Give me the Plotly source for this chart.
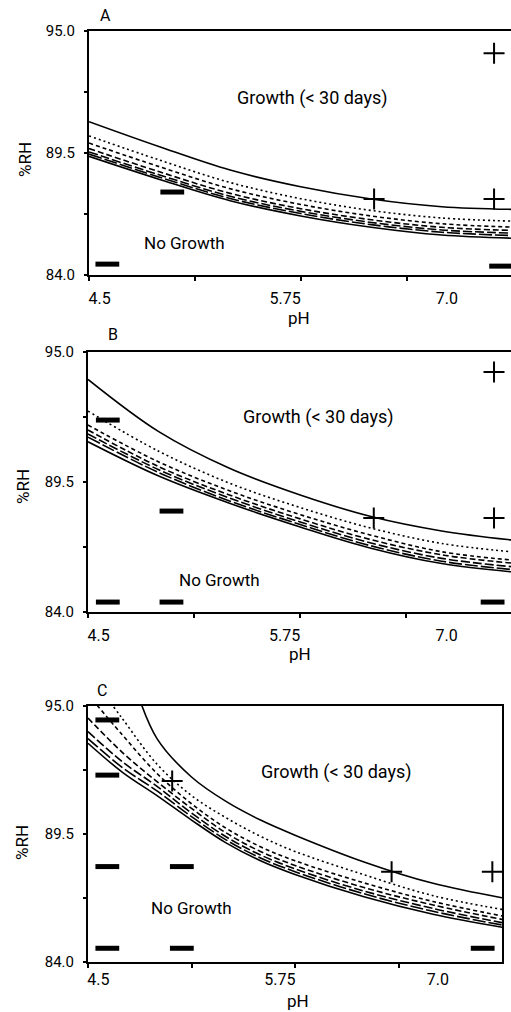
import plotly.graph_objects as go

# ---------------- data ----------------
PH_AB = [4.5, 5.0, 5.5, 6.0, 6.5, 7.0, 7.49]
A_TOP = [90.91, 89.78, 88.73, 87.98, 87.43, 87.08, 86.96]
A_DOT = [90.27, 89.18, 88.17, 87.44, 86.91, 86.57, 86.43]
A_DS = [89.95, 88.88, 87.89, 87.18, 86.66, 86.31, 86.16]
A_DM = [89.70, 88.65, 87.68, 86.99, 86.49, 86.15, 86.01]
A_DL = [89.55, 88.51, 87.55, 86.87, 86.37, 86.03, 85.89]
A_DXL = [89.45, 88.41, 87.45, 86.77, 86.27, 85.93, 85.78]
A_BOT = [89.35, 88.31, 87.35, 86.66, 86.15, 85.80, 85.66]

B_TOP = [93.84, 91.63, 90.08, 88.95, 88.04, 87.43, 87.05]
B_DOT = [92.50, 90.80, 89.45, 88.42, 87.55, 86.90, 86.55]
B_DS = [91.91, 90.35, 89.13, 88.12, 87.25, 86.55, 86.20]
B_DM = [91.70, 90.15, 88.95, 87.94, 87.06, 86.42, 86.07]
B_DL = [91.53, 90.02, 88.82, 87.81, 86.92, 86.27, 85.92]
B_DXL = [91.40, 89.90, 88.70, 87.70, 86.80, 86.15, 85.80]
B_BOT = [91.20, 89.75, 88.60, 87.60, 86.70, 86.05, 85.70]

PH_C_TOP = [4.85, 5.0, 5.25, 5.5, 5.75, 6.0, 6.5, 7.0, 7.5]
C_TOP = [95.7, 93.6, 91.95, 90.9, 90.1, 89.45, 88.3, 87.38, 86.76]
PH_C_DOT = [4.6, 4.75, 5.0, 5.25, 5.5, 5.75, 6.0, 6.5, 7.0, 7.5]
C_DOT = [95.65, 94.45, 92.5, 91.15, 90.2, 89.4, 88.75, 87.75, 86.85, 86.26]
PH_C = [4.5, 4.75, 5.0, 5.25, 5.5, 5.75, 6.0, 6.5, 7.0, 7.5]
C_DS = [95.5, 93.75, 92.1, 90.8, 89.75, 88.95, 88.35, 87.4, 86.6, 85.98]
C_DM = [94.48, 93.0, 91.75, 90.6, 89.55, 88.75, 88.15, 87.2, 86.45, 85.83]
C_DL = [93.9, 92.6, 91.55, 90.4, 89.38, 88.6, 88.0, 87.05, 86.3, 85.69]
C_DXL = [93.6, 92.35, 91.35, 90.25, 89.25, 88.47, 87.88, 86.93, 86.18, 85.59]
C_BOT = [93.4, 92.15, 91.15, 90.1, 89.12, 88.35, 87.76, 86.8, 86.05, 85.49]

# growth (+) and no growth (-) observations
A_PLUS_PH = [7.37, 6.52, 7.37]
A_PLUS_RH = [94.0, 87.43, 87.43]
A_MINUS_PH = [4.63, 5.09, 7.42]
A_MINUS_RH = [84.49, 87.74, 84.4]

B_PLUS_PH = [7.37, 6.52, 7.37]
B_PLUS_RH = [94.15, 87.98, 87.98]
B_MINUS_PH = [4.64, 5.09, 4.64, 5.09, 7.36]
B_MINUS_RH = [92.12, 88.27, 84.42, 84.42, 84.42]

C_PLUS_PH = [5.11, 6.70, 7.43]
C_PLUS_RH = [91.78, 87.88, 87.88]
C_MINUS_PH = [4.64, 4.64, 4.64, 5.18, 4.64, 5.18, 7.36]
C_MINUS_RH = [94.4, 92.03, 88.1, 88.1, 84.59, 84.59, 84.59]

Y_TICKS = [84.0, 89.5, 95.0]
Y_TICK_TEXT = ["84.0", "89.5", "95.0"]
Y_MINOR = [86.75, 92.25]
X_TICK_POS = [4.575, 5.89, 7.035]
X_TICK_TEXT = ["4.5", "5.75", "7.0"]
X_MINOR = [4.5, 5.25, 6.0, 6.75]

PANEL_LETTERS = ["A", "B", "C"]
X_TITLE = "pH"
Y_TITLE = "%RH"
GROWTH_TEXT = "Growth (&lt; 30 days)"
NOGROWTH_TEXT = "No Growth"
GROWTH_POS = [(6.08, 91.98), (6.13, 92.25), (6.30, 92.16)]
NOGROWTH_POS = [(5.18, 85.44), (5.43, 85.36), (5.25, 86.32)]

# ---------------- figure ----------------
W, H = 511, 1012
FONT = "Roboto, Liberation Sans, sans-serif"
DASHES = ["solid", "2px,3px", "4px,3px", "6px,3px", "9px,3px", "13px,3px", "solid"]


def fx(p):
    return p / W


def fy(p):
    return 1 - p / H


panels = [
    dict(curves=[(PH_AB, A_TOP), (PH_AB, A_DOT), (PH_AB, A_DS), (PH_AB, A_DM),
                 (PH_AB, A_DL), (PH_AB, A_DXL), (PH_AB, A_BOT)],
         plus=(A_PLUS_PH, A_PLUS_RH), minus=(A_MINUS_PH, A_MINUS_RH),
         xdom=[fx(89), 1.0], ydom=[fy(275), fy(31)], xr=[4.5, 7.49],
         letter=(105, 15), ytitle=(25, 160), xtitle=(299, 318), right=False,
         xstand=8),
    dict(curves=[(PH_AB, B_TOP), (PH_AB, B_DOT), (PH_AB, B_DS), (PH_AB, B_DM),
                 (PH_AB, B_DL), (PH_AB, B_DXL), (PH_AB, B_BOT)],
         plus=(B_PLUS_PH, B_PLUS_RH), minus=(B_MINUS_PH, B_MINUS_RH),
         xdom=[fx(88), 1.0], ydom=[fy(612), fy(352)], xr=[4.5, 7.49],
         letter=(113, 334), ytitle=(23, 487), xtitle=(300, 654), right=False,
         xstand=8),
    dict(curves=[(PH_C_TOP, C_TOP), (PH_C_DOT, C_DOT), (PH_C, C_DS), (PH_C, C_DM),
                 (PH_C, C_DL), (PH_C, C_DXL), (PH_C, C_BOT)],
         plus=(C_PLUS_PH, C_PLUS_RH), minus=(C_MINUS_PH, C_MINUS_RH),
         xdom=[fx(88), fx(502)], ydom=[fy(962), fy(706)], xr=[4.5, 7.5],
         letter=(102, 690), ytitle=(22, 843), xtitle=(298, 1001), right=True,
         xstand=2),
]

fig = go.Figure()
annotations = []
layout = {}

for i, p in enumerate(panels):
    n = "" if i == 0 else str(i + 1)
    xa, ya = "x" + n, "y" + n
    for (xs, ys), dash in zip(p["curves"], DASHES):
        fig.add_trace(go.Scatter(x=xs, y=ys, mode="lines", xaxis=xa, yaxis=ya,
                                 line=dict(color="black", width=1.6, dash=dash,
                                           shape="spline", smoothing=1.0),
                                 showlegend=False, hoverinfo="skip"))
    fig.add_trace(go.Scatter(x=p["plus"][0], y=p["plus"][1], mode="markers",
                             xaxis=xa, yaxis=ya, showlegend=False,
                             marker=dict(symbol="cross-thin", size=15,
                                         line=dict(color="black", width=2))))
    fig.add_trace(go.Scatter(x=p["minus"][0], y=p["minus"][1], mode="markers",
                             xaxis=xa, yaxis=ya, showlegend=False,
                             marker=dict(symbol="line-ew", size=17,
                                         line=dict(color="black", width=5))))
    layout["xaxis" + n] = dict(
        domain=p["xdom"], range=p["xr"], anchor=ya, automargin=False,
        showline=True, linecolor="black", linewidth=2, mirror=True,
        showgrid=False, zeroline=False,
        tickmode="array", tickvals=X_TICK_POS, ticktext=X_TICK_TEXT, ticks="",
        ticklabelstandoff=p["xstand"],
        minor=dict(tickvals=X_MINOR, ticks="outside", ticklen=4,
                   tickcolor="black", tickwidth=1.5, showgrid=False),
        tickfont=dict(family=FONT, size=16, color="black"),
    )
    layout["yaxis" + n] = dict(
        domain=p["ydom"], range=[84, 95], anchor=xa, automargin=False,
        showline=True, linecolor="black", linewidth=2, mirror=p["right"],
        showgrid=False, zeroline=False,
        tickmode="array", tickvals=Y_TICKS, ticktext=Y_TICK_TEXT,
        ticks="outside", ticklen=3, tickwidth=1.5, tickcolor="black",
        ticklabelstandoff=6,
        minor=dict(tickvals=Y_MINOR, ticks="outside", ticklen=3,
                   tickcolor="black", tickwidth=1.5, showgrid=False),
        tickfont=dict(family=FONT, size=15, color="black"),
    )
    gx, gy = GROWTH_POS[i]
    annotations.append(dict(x=gx, y=gy, xref=xa, yref=ya, text=GROWTH_TEXT,
                            showarrow=False, font=dict(family=FONT, size=18, color="black")))
    nx, ny = NOGROWTH_POS[i]
    annotations.append(dict(x=nx, y=ny, xref=xa, yref=ya, text=NOGROWTH_TEXT,
                            showarrow=False, font=dict(family=FONT, size=17, color="black")))
    lx, ly = p["letter"]
    annotations.append(dict(x=fx(lx), y=fy(ly), xref="paper", yref="paper",
                            text=PANEL_LETTERS[i], showarrow=False,
                            xanchor="center", yanchor="middle",
                            font=dict(family=FONT, size=16, color="black")))
    tx, ty = p["ytitle"]
    annotations.append(dict(x=fx(tx), y=fy(ty), xref="paper", yref="paper",
                            text=Y_TITLE, showarrow=False, textangle=-90,
                            xanchor="center", yanchor="middle",
                            font=dict(family=FONT, size=17, color="black")))
    tx, ty = p["xtitle"]
    annotations.append(dict(x=fx(tx), y=fy(ty), xref="paper", yref="paper",
                            text=X_TITLE, showarrow=False,
                            xanchor="center", yanchor="middle",
                            font=dict(family=FONT, size=17, color="black")))

fig.update_layout(
    width=W, height=H,
    margin=dict(l=0, r=0, t=0, b=0, autoexpand=False),
    paper_bgcolor="white", plot_bgcolor="white",
    font=dict(family=FONT, size=16, color="black"),
    annotations=annotations,
    showlegend=False,
    **layout,
)

fig.write_html("out.html", config={"displayModeBar": False},
               post_script="document.body.style.margin='0';document.body.style.overflow='hidden';")
